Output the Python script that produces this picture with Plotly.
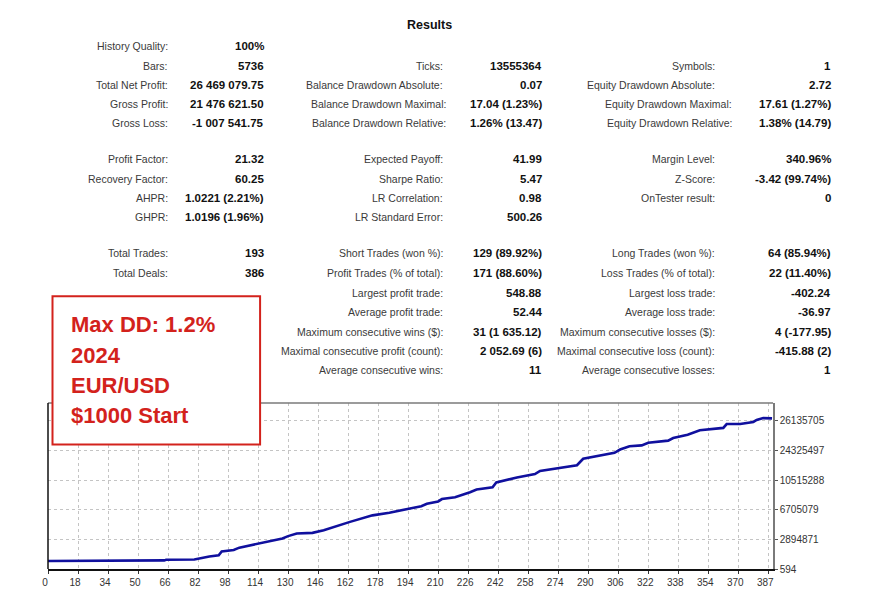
import plotly.graph_objects as go

# ---------------- data ----------------
x_tick_vals = list(range(0, 385, 16))
x_tick_text = ["0", "18", "34", "50", "66", "82", "98", "114", "130", "146", "162", "178",
               "194", "210", "226", "242", "258", "274", "290", "306", "322", "338", "354",
               "370", "387"]
y_tick_vals = [0, 1, 2, 3, 4, 5]
y_tick_text = ["594", "2894871", "6705079", "10515288", "24325497", "26135705"]

deal_x = [0, 35.5, 36, 62, 63, 78, 86, 91, 92.6, 99, 102, 114, 125, 128, 132.6, 141, 147,
          161, 173, 182, 193, 199, 202, 208, 210, 217, 225, 228.5, 237, 239, 250, 259.6,
          262.3, 273, 282, 285.3, 294, 302, 305, 310, 316.5, 320, 330.6, 333.3, 341, 347.5,
          360, 361.8, 369, 376, 377.8, 381.3, 386]
balance_y = [0.27, 0.27, 0.29, 0.29, 0.31, 0.32, 0.42, 0.46, 0.59, 0.64, 0.72, 0.87, 1.03,
             1.11, 1.20, 1.22, 1.31, 1.59, 1.81, 1.90, 2.03, 2.12, 2.20, 2.28, 2.36, 2.42,
             2.59, 2.68, 2.76, 2.92, 3.09, 3.20, 3.31, 3.40, 3.50, 3.72, 3.83, 3.92, 4.03,
             4.14, 4.17, 4.26, 4.33, 4.42, 4.53, 4.68, 4.76, 4.89, 4.89, 4.96, 5.03, 5.09, 5.08]

title_text = "Results"
col1_labels = ["History Quality:", "Bars:", "Total Net Profit:", "Gross Profit:", "Gross Loss:",
               "Profit Factor:", "Recovery Factor:", "AHPR:", "GHPR:", "Total Trades:", "Total Deals:"]
col1_values = ["100%", "5736", "26 469 079.75", "21 476 621.50", "-1 007 541.75",
               "21.32", "60.25", "1.0221 (2.21%)", "1.0196 (1.96%)", "193", "386"]
col1_rows = [0, 1, 2, 3, 4, 5, 6, 7, 8, 9, 10]

col2_labels = ["Ticks:", "Balance Drawdown Absolute:", "Balance Drawdown Maximal:",
               "Balance Drawdown Relative:", "Expected Payoff:", "Sharpe Ratio:", "LR Correlation:",
               "LR Standard Error:", "Short Trades (won %):", "Profit Trades (% of total):",
               "Largest profit trade:", "Average profit trade:", "Maximum consecutive wins ($):",
               "Maximal consecutive profit (count):", "Average consecutive wins:"]
col2_values = ["13555364", "0.07", "17.04 (1.23%)", "1.26% (13.47)", "41.99", "5.47", "0.98",
               "500.26", "129 (89.92%)", "171 (88.60%)", "548.88", "52.44", "31 (1 635.12)",
               "2 052.69 (6)", "11"]
col2_rows = [1, 2, 3, 4, 5, 6, 7, 8, 9, 10, 11, 12, 13, 14, 15]

col3_labels = ["Symbols:", "Equity Drawdown Absolute:", "Equity Drawdown Maximal:",
               "Equity Drawdown Relative:", "Margin Level:", "Z-Score:", "OnTester result:",
               "Long Trades (won %):", "Loss Trades (% of total):", "Largest loss trade:",
               "Average loss trade:", "Maximum consecutive losses ($):",
               "Maximal consecutive loss (count):", "Average consecutive losses:"]
col3_values = ["1", "2.72", "17.61 (1.27%)", "1.38% (14.79)", "340.96%", "-3.42 (99.74%)", "0",
               "64 (85.94%)", "22 (11.40%)", "-402.24", "-36.97", "4 (-177.95)", "-415.88 (2)", "1"]
col3_rows = [1, 2, 3, 4, 5, 6, 7, 9, 10, 11, 12, 13, 14, 15]

note_lines = ["Max DD: 1.2%", "2024", "EUR/USD", "$1000 Start"]

# ---------------- layout helpers (page pixels -> paper) ----------------
W, H = 872, 600
BODY = 8  # default page body margin around the plot div
PL, PR, PT, PB = 48, 772.7, 403, 571
row_px = [42, 61.5, 81, 100.5, 120, 156, 176, 195.5, 215, 251.5, 271, 291.5, 311, 331, 350.5, 370]


def px(x):
    return (x - PL) / (PR - PL)


def py(y):
    return (PB - y) / (PB - PT)


FONT = "Liberation Sans, Arial, sans-serif"
LABEL_C = "#3a3a3a"
VALUE_C = "#111111"

fig = go.Figure()
fig.add_trace(go.Scatter(x=deal_x, y=balance_y, mode="lines",
                         line=dict(color="#10109e", width=2.6), hoverinfo="skip",
                         showlegend=False))

annotations = []


def add_text(text, x, y, anchor="right", bold=False, color=LABEL_C, size=10.5):
    t = "<b>%s</b>" % text if bold else text
    annotations.append(dict(text=t, x=px(x), y=py(y), xref="paper", yref="paper",
                            xanchor=anchor, yanchor="middle", showarrow=False,
                            font=dict(family=FONT, size=size, color=color)))


add_text(title_text, 429, 20, anchor="center", bold=True, color=VALUE_C, size=12.5)

VS = 11.5
for lab, val, r in zip(col1_labels, col1_values, col1_rows):
    add_text(lab, 170, row_px[r])
    add_text(val, 266, row_px[r], bold=True, color=VALUE_C, size=VS)

for lab, val, r in zip(col2_labels, col2_values, col2_rows):
    edge = 447.5 if lab in ("Balance Drawdown Maximal:", "Balance Drawdown Relative:") else 445
    add_text(lab, edge, row_px[r])
    add_text(val, 544, row_px[r], bold=True, color=VALUE_C, size=VS)

for lab, val, r in zip(col3_labels, col3_values, col3_rows):
    edge = 734 if lab in ("Equity Drawdown Maximal:", "Equity Drawdown Relative:") else 717
    add_text(lab, edge, row_px[r])
    add_text(val, 833, row_px[r], bold=True, color=VALUE_C, size=VS)

RED = "#d3221c"
note_y = [323.5, 354.5, 385, 416]
for line, yy in zip(note_lines, note_y):
    annotations.append(dict(text="<b>%s</b>" % line, x=px(69), y=py(yy), xref="paper", yref="paper",
                            xanchor="left", yanchor="middle", showarrow=False,
                            font=dict(family=FONT, size=22, color=RED)))

shapes = [
    dict(type="line", xref="paper", yref="paper", x0=0, x1=1, y0=1, y1=1,
         line=dict(color="#7a7a7a", width=1.5), layer="above"),
    dict(type="line", xref="paper", yref="paper", x0=0, x1=0, y0=0, y1=1,
         line=dict(color="#111111", width=1.5), layer="above"),
    dict(type="rect", xref="paper", yref="paper", x0=px(52.5), x1=px(260), y0=py(295), y1=py(445),
         line=dict(color=RED, width=2), fillcolor="white", layer="above"),
]

GRID_DASH = "3px,3px"
fw, fh = W - BODY, H - BODY
fig.update_layout(
    width=fw, height=fh,
    margin=dict(l=PL - BODY, r=fw + BODY - PR, t=PT - BODY, b=fh + BODY - PB, pad=0),
    paper_bgcolor="white", plot_bgcolor="white",
    showlegend=False,
    annotations=annotations,
    shapes=shapes,
    xaxis=dict(range=[0, (PR - PL) / 1.875], tickmode="array", tickvals=x_tick_vals,
               ticktext=x_tick_text, showgrid=True, gridcolor="#c4c4c4", griddash=GRID_DASH,
               gridwidth=1, zeroline=False, showline=True, linecolor="#111111", linewidth=1.5,
               ticks="outside", ticklen=3, tickcolor="#333333", ticklabelshift=-3,
               tickfont=dict(family=FONT, size=10, color="#333333"), fixedrange=True),
    yaxis=dict(range=[0, (PB - PT) / 30.0], side="right", tickmode="array", tickvals=y_tick_vals,
               ticktext=y_tick_text, showgrid=True, gridcolor="#c4c4c4", griddash=GRID_DASH,
               gridwidth=1, zeroline=False, showline=True, linecolor="#7a7a7a", linewidth=1.5,
               ticks="outside", ticklen=3, tickcolor="#555555",
               tickfont=dict(family=FONT, size=10, color="#333333"), fixedrange=True),
)

fig.write_html("out.html")
